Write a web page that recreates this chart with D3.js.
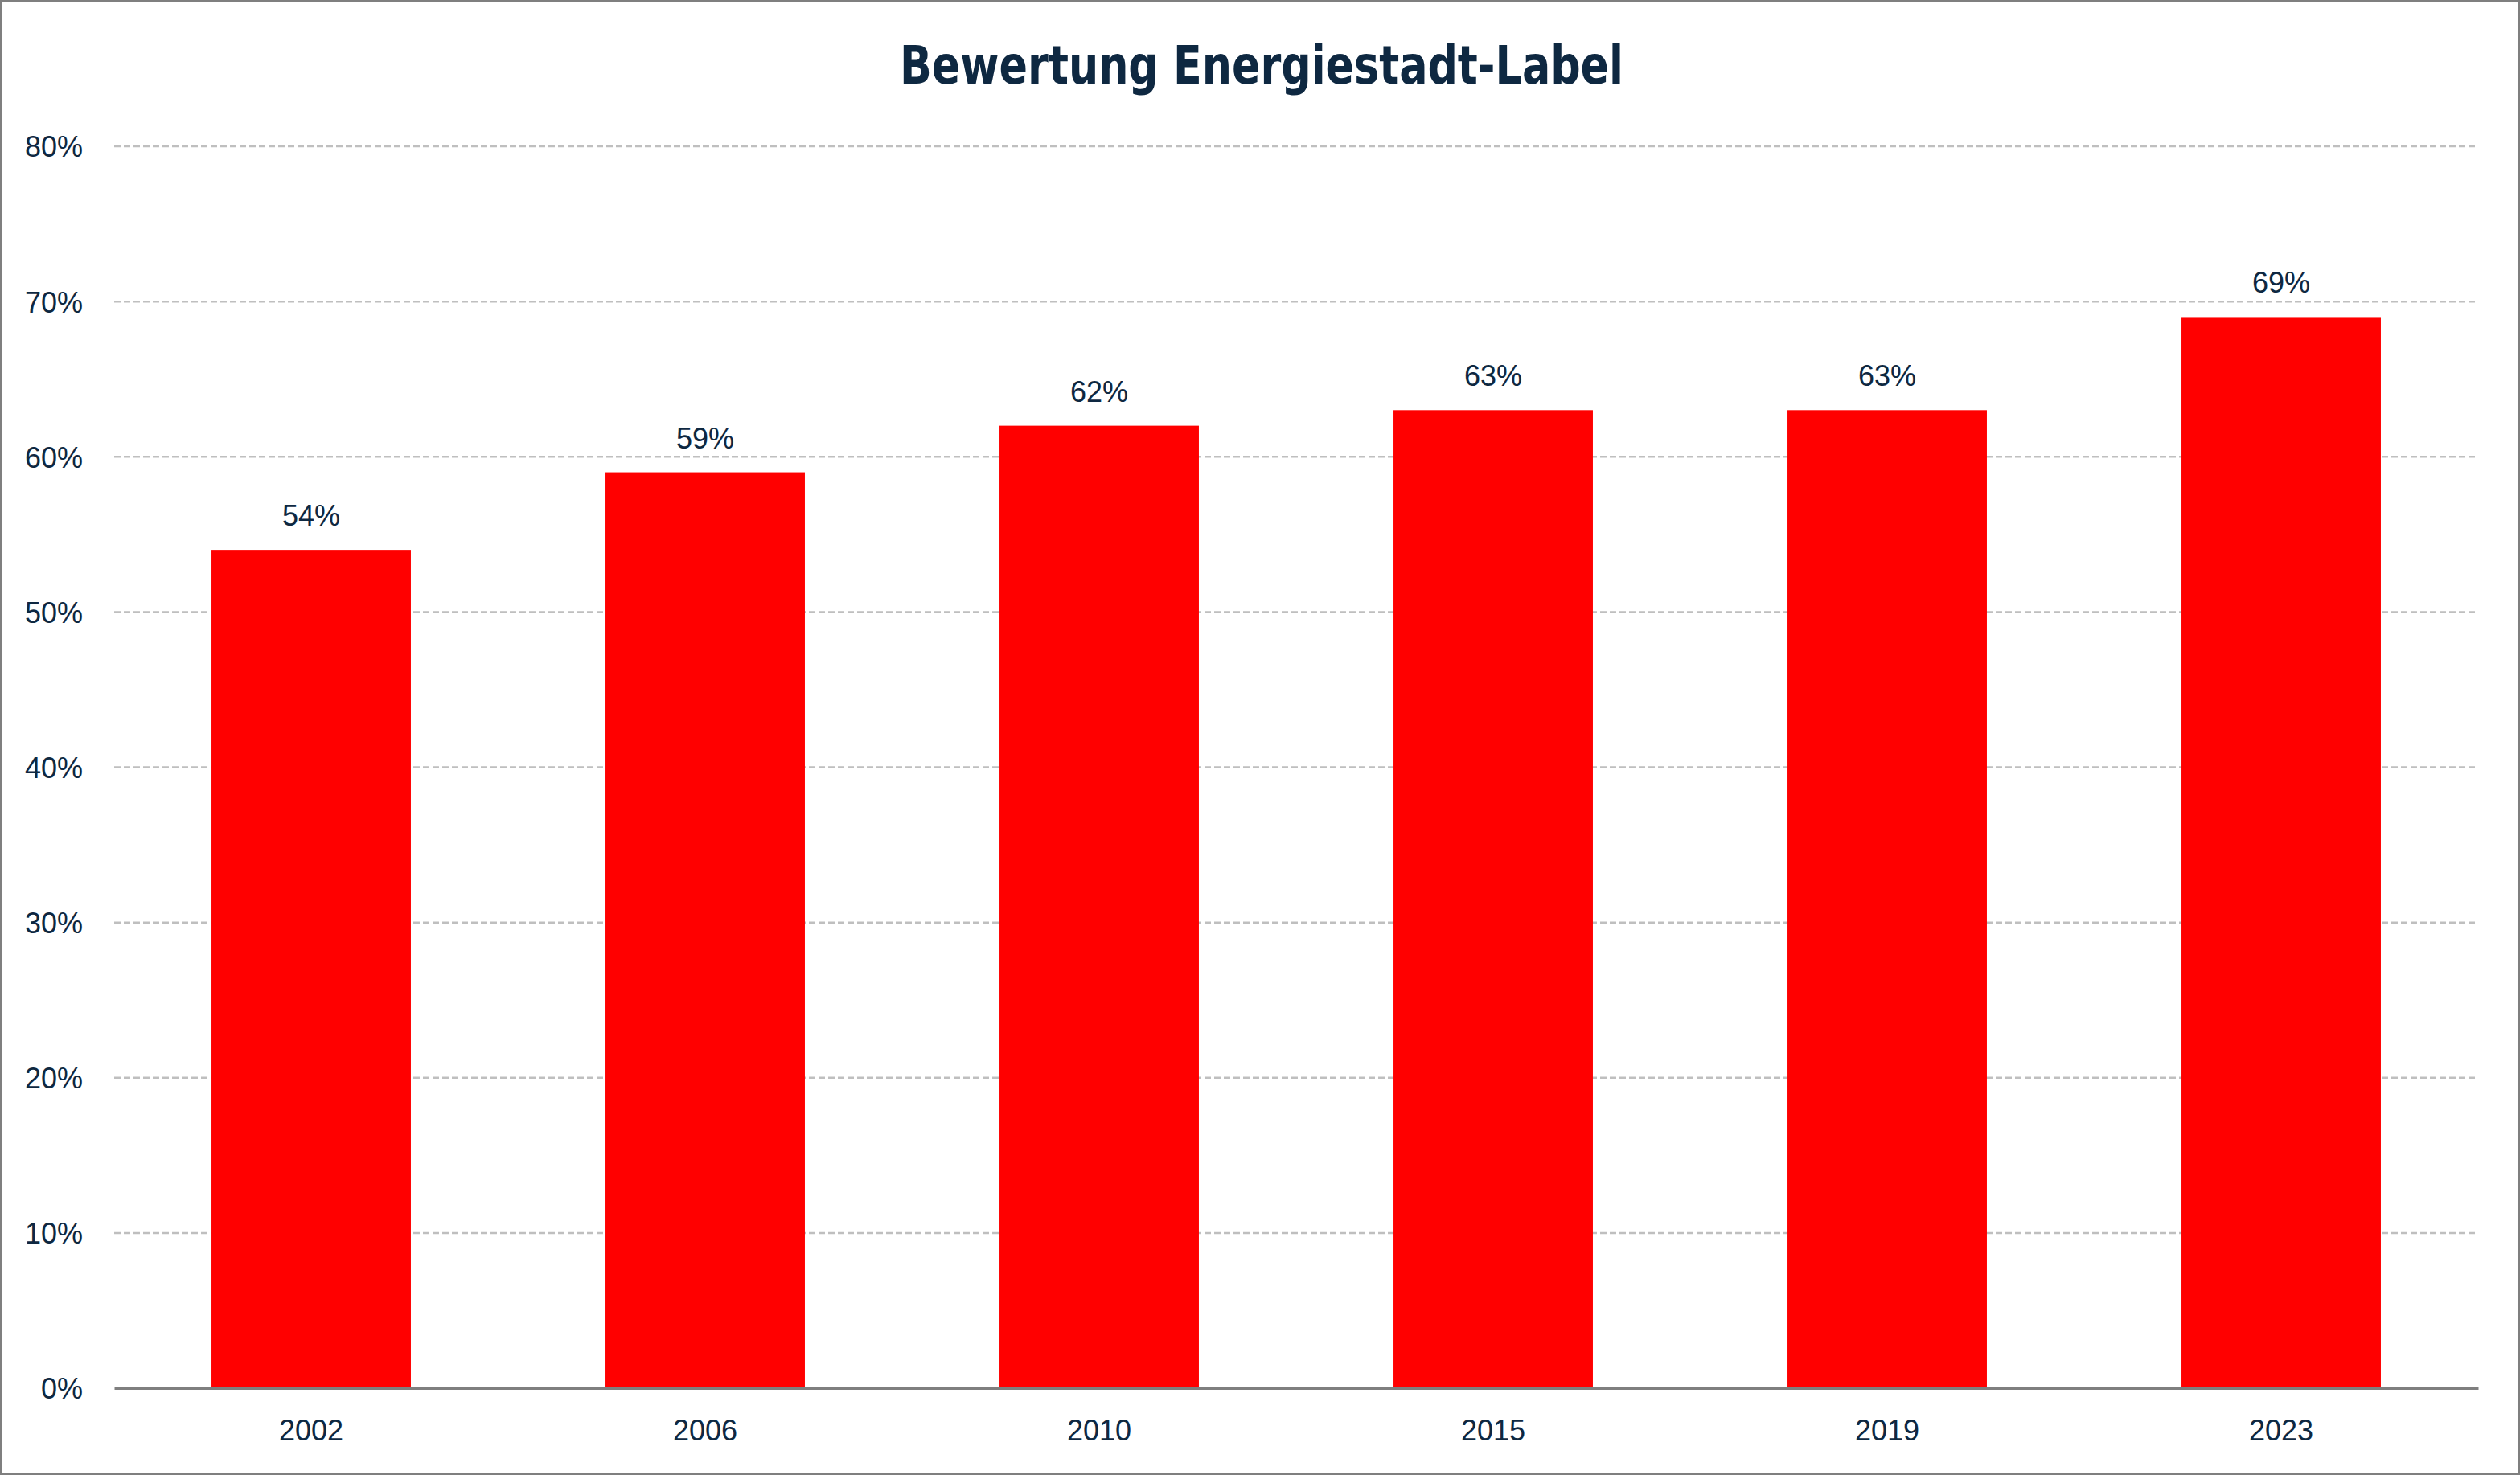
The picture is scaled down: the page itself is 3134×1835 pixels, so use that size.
<!DOCTYPE html>
<html>
<head>
<meta charset="utf-8">
<script src="https://cdn.jsdelivr.net/npm/d3@7"></script>
<style>
  html, body { margin: 0; padding: 0; background: #fff; }
  svg { display: block; }
</style>
</head>
<body>
<svg id="chart" width="3134" height="1835"></svg>
<script>
const categories = ["2002", "2006", "2010", "2015", "2019", "2023"];
const values = [0.54, 0.59, 0.62, 0.63, 0.63, 0.69];
const yTicks = [0, 0.1, 0.2, 0.3, 0.4, 0.5, 0.6, 0.7, 0.8];
const title = "Bewertung Energiestadt-Label";

const W = 3134, H = 1835;
const margin = { left: 142, right: 52, top: 182, bottom: 108 };
const textColor = "#0e2841";

const svg = d3.select("#chart");

svg.append("rect")
  .attr("x", 1.5).attr("y", 1.5)
  .attr("width", W - 3).attr("height", H - 3)
  .attr("fill", "#fff").attr("stroke", "#7f7f7f").attr("stroke-width", 3);

const x = d3.scaleBand()
  .domain(categories)
  .range([margin.left, W - margin.right])
  .paddingInner(0.494)
  .paddingOuter(0.247);

const y = d3.scaleLinear()
  .domain([0, 0.8])
  .range([H - margin.bottom, margin.top]);

// gridlines
svg.append("g")
  .selectAll("line")
  .data(yTicks.filter(d => d > 0))
  .join("line")
  .attr("x1", margin.left).attr("x2", W - margin.right)
  .attr("y1", d => y(d)).attr("y2", d => y(d))
  .attr("stroke", "#bfbfbf")
  .attr("stroke-width", 2.5)
  .attr("stroke-dasharray", "8,4");

// y axis labels
const yAxis = d3.axisLeft(y)
  .tickValues(yTicks)
  .tickFormat(d3.format(".0%"))
  .tickSize(0)
  .tickPadding(39);
const gy = svg.append("g")
  .attr("transform", `translate(${margin.left},0)`)
  .call(yAxis);
gy.select(".domain").remove();
gy.selectAll("text")
  .attr("font-family", "'Liberation Sans', Arial, sans-serif")
  .attr("font-size", 36)
  .attr("fill", textColor)
  .attr("dy", "0.36em");

// bars
svg.append("g")
  .selectAll("rect")
  .data(categories.map((c, i) => ({ c, v: values[i] })))
  .join("rect")
  .attr("x", d => x(d.c))
  .attr("width", x.bandwidth())
  .attr("y", d => y(d.v))
  .attr("height", d => y(0) - y(d.v))
  .attr("fill", "#ff0000");

// data labels
svg.append("g")
  .selectAll("text")
  .data(categories.map((c, i) => ({ c, v: values[i] })))
  .join("text")
  .attr("x", d => x(d.c) + x.bandwidth() / 2)
  .attr("y", d => y(d.v) - 30)
  .attr("text-anchor", "middle")
  .attr("font-family", "'Liberation Sans', Arial, sans-serif")
  .attr("font-size", 36)
  .attr("fill", textColor)
  .text(d => d3.format(".0%")(d.v));

// x axis
const xAxis = d3.axisBottom(x).tickSize(0).tickPadding(0);
const gx = svg.append("g")
  .attr("transform", `translate(0,${y(0)})`)
  .call(xAxis);
gx.select(".domain")
  .attr("stroke", "#7f7f7f")
  .attr("stroke-width", 3);
gx.selectAll("text")
  .attr("font-family", "'Liberation Sans', Arial, sans-serif")
  .attr("font-size", 36)
  .attr("fill", textColor)
  .attr("dy", 0)
  .attr("y", 65);

// title
const t = svg.append("text")
  .attr("x", 1569)
  .attr("y", 104)
  .attr("text-anchor", "middle")
  .attr("font-family", "'Liberation Sans Narrow', 'DejaVu Sans Condensed', sans-serif")
  .attr("font-weight", "bold")
  .attr("font-size", 66)
  .attr("fill", textColor)
  .text(title);
const len = t.node().getComputedTextLength();
if (Math.abs(len - 900) > 10) {
  t.attr("textLength", 900).attr("lengthAdjust", "spacingAndGlyphs");
}
</script>
</body>
</html>
